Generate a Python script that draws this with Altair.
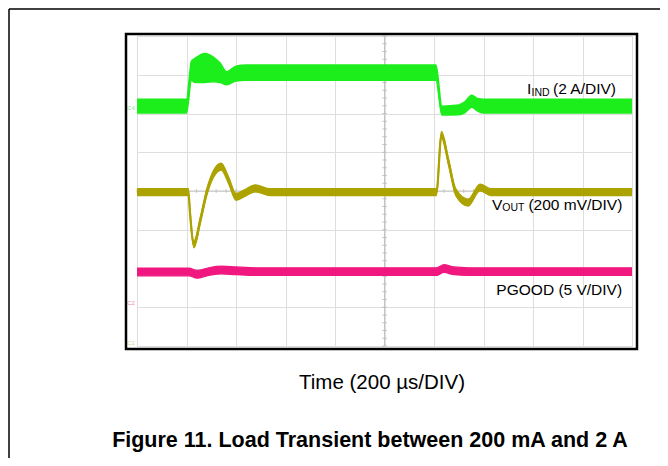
import altair as alt
import pandas as pd
import numpy as np

FONT = "Liberation Sans"

# ---- Scope traces, in screen divisions (x: 0-10 div, y: 0-8 div) ----
# Inductor current I_IND (2 A/DIV): noisy band, lower / upper envelope
ind_t  = [0.00, 1.00, 1.10, 1.17, 1.37, 1.55, 1.68, 1.81, 2.00, 2.20, 6.04, 6.16, 6.50, 6.62, 6.76, 6.90, 7.00, 10.00]
ind_lo = [6.01, 6.01, 6.85, 6.80, 6.80, 6.82, 6.80, 6.74, 6.84, 6.86, 6.86, 5.96, 5.97, 6.02, 6.16, 6.05, 6.01, 6.01]
ind_hi = [6.37, 6.37, 7.35, 7.42, 7.55, 7.45, 7.30, 7.08, 7.22, 7.25, 7.25, 6.19, 6.22, 6.30, 6.47, 6.38, 6.37, 6.37]

# Output voltage V_OUT (200 mV/DIV): trace centre
vout_t = [0.00, 1.04, 1.07, 1.15, 1.28, 1.41, 1.55, 1.70, 1.85, 2.00, 2.18, 2.39, 2.69, 6.05, 6.15, 6.30, 6.44, 6.69, 6.93, 7.15, 10.00]
vout_v = [3.97, 3.97, 3.45, 2.62, 3.25, 3.97, 4.45, 4.63, 4.28, 3.85, 3.95, 4.07, 3.97, 3.97, 5.45, 4.71, 3.97, 3.70, 4.09, 3.97, 3.97]

# PGOOD (5 V/DIV): trace centre
pg_t = [0.00, 1.05, 1.21, 1.45, 1.70, 2.00, 2.40, 6.05, 6.20, 6.40, 6.70, 10.00]
pg_v = [1.91, 1.91, 1.85, 1.92, 1.96, 1.94, 1.92, 1.92, 2.00, 1.94, 1.92, 1.92]

# Channel ground markers
ch_names = ["C4", "C2", "C1"]
ch_level = [6.14, 1.11, 0.08]

GREEN = "#1cee1c"
OLIVE = "#ada300"
MAGENTA = "#f0187f"
ch_colors = ["#8fe88f", "#f08ab8", "#d8d890"]

W, H = 495, 310

ind_df = pd.DataFrame({"t": ind_t, "lo": ind_lo, "hi": ind_hi})
vout_df = pd.DataFrame({"t": vout_t, "v": vout_v})
vout_df["lo"] = vout_df["v"] - 0.09
vout_df["hi"] = vout_df["v"] + 0.09
pg_df = pd.DataFrame({"t": pg_t, "v": pg_v})
pg_df["lo"] = pg_df["v"] - 0.10
pg_df["hi"] = pg_df["v"] + 0.10
ch_df = pd.DataFrame({"name": ch_names, "v": ch_level, "t": [-0.12] * 3, "c": ch_colors})

xs = alt.Scale(domain=[0, 10], nice=False, zero=False)
ys = alt.Scale(domain=[0, 8], nice=False, zero=False)

xaxis = alt.Axis(values=list(range(11)), grid=True, gridColor="#dedede", gridWidth=1,
                 domain=False, ticks=False, labels=False,
                 title="Time (200 µs/DIV)", titleFont=FONT, titleFontSize=20.5,
                 titleFontWeight="normal", titleColor="black",
                 titleX=244.5, titleY=42, titleAlign="center", titleBaseline="alphabetic")
yaxis = alt.Axis(values=list(range(9)), grid=True, gridColor="#dedede", gridWidth=1,
                 domain=False, ticks=False, labels=False, title=None)

X = lambda f="t": alt.X(f"{f}:Q", scale=xs, axis=xaxis)
Y = lambda f="v": alt.Y(f"{f}:Q", scale=ys, axis=yaxis)

one = pd.DataFrame({"a": [0]})

# decorations: page frame and scope bezel
page_left = alt.Chart(one).mark_rule(color="black", strokeWidth=1.5).encode(
    x=alt.value(-128), y=alt.value(-27), y2=alt.value(422))
page_top = alt.Chart(one).mark_rule(color="black", strokeWidth=1.5).encode(
    x=alt.value(-128), x2=alt.value(523), y=alt.value(-27))
bezel = alt.Chart(one).mark_rect(fillOpacity=0, stroke="black", strokeWidth=2.5).encode(
    x=alt.value(-11), x2=alt.value(500), y=alt.value(-2), y2=alt.value(313))

# centre graticule lines with minor ticks
cx = alt.Chart(pd.DataFrame({"t": [5]})).mark_rule(color="#c4c4c4", strokeWidth=1).encode(x=X())
cy = alt.Chart(pd.DataFrame({"v": [4]})).mark_rule(color="#c4c4c4", strokeWidth=1).encode(y=Y())
minor_y = pd.DataFrame({"v": np.round(np.arange(0, 8.01, 0.2), 2), "t": 5.0})
minor_x = pd.DataFrame({"t": np.round(np.arange(0, 10.01, 0.2), 2), "v": 4.0})
tick_v = alt.Chart(minor_y).mark_tick(orient="horizontal", size=5, thickness=1, color="#b8b8b8").encode(x=X(), y=Y())
tick_h = alt.Chart(minor_x).mark_tick(orient="vertical", size=4, thickness=1, color="#b8b8b8").encode(x=X(), y=Y())

def band(df, color, edge):
    a = alt.Chart(df).mark_area(color=color, interpolate="monotone", opacity=1).encode(
        x=X(), y=Y("lo"), y2="hi")
    l1 = alt.Chart(df).mark_line(color=color, interpolate="monotone", strokeWidth=edge).encode(x=X(), y=Y("lo"))
    l2 = alt.Chart(df).mark_line(color=color, interpolate="monotone", strokeWidth=edge).encode(x=X(), y=Y("hi"))
    return [a, l1, l2]

ind_layers = band(ind_df, GREEN, 1.5)
vout_layers = band(vout_df, OLIVE, 1.2) + [
    alt.Chart(vout_df).mark_line(color=OLIVE, interpolate="monotone", strokeWidth=2.2).encode(x=X(), y=Y("v"))]
pg_layers = band(pg_df, MAGENTA, 1.2)

ch_text = alt.Chart(ch_df).mark_text(font=FONT, fontSize=6, align="center", baseline="middle").encode(
    x=X(), y=Y(), text="name:N", color=alt.Color("c:N", scale=None))

def txt(s, t, v, size=15.5, dx=0, dy=0):
    return alt.Chart(pd.DataFrame({"t": [t], "v": [v], "s": [s]})).mark_text(
        font=FONT, fontSize=size, align="left", baseline="alphabetic", color="black", dx=dx, dy=dy
    ).encode(x=X(), y=Y(), text="s:N")

labels = [
    txt("I", 7.88, 6.50),
    txt("IND", 7.88, 6.50, size=10.5, dx=4.4, dy=1.5),
    txt("(2 A/DIV)", 7.88, 6.50, dx=26),
    txt("V", 7.17, 3.51),
    txt("OUT", 7.17, 3.51, size=10.5, dx=10.4, dy=1.5),
    txt("(200 mV/DIV)", 7.17, 3.51, dx=36.5),
    txt("PGOOD (5 V/DIV)", 7.26, 1.32),
]

caption = alt.Chart(pd.DataFrame({"s": ["Figure 11. Load Transient between 200 mA and 2 A"]})).mark_text(
    font=FONT, fontSize=21.5, fontWeight="bold", align="center", baseline="alphabetic", color="black"
).encode(x=alt.value(233), y=alt.value(411), text="s:N")

chart = alt.layer(
    cx, cy, tick_v, tick_h,
    *ind_layers, *vout_layers, *pg_layers,
    ch_text, *labels, bezel, page_left, page_top, caption
).properties(
    width=W, height=H,
    padding={"left": 129, "top": 28, "right": 28, "bottom": 112},
    autosize=alt.AutoSizeParams(type="none"),
    background="white",
).configure_view(strokeWidth=0)

chart.save("out.html", embed_options={"renderer": "svg", "actions": False})
